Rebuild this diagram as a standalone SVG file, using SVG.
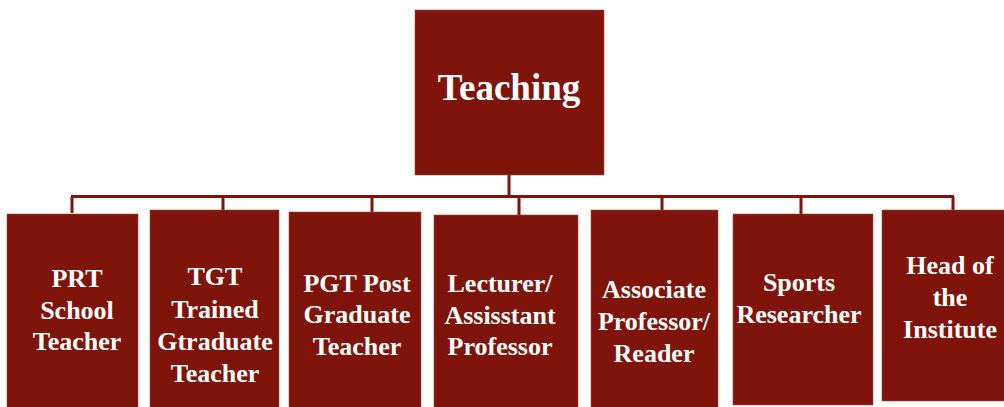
<svg xmlns="http://www.w3.org/2000/svg" width="1004" height="407" viewBox="0 0 1004 407">
<style>
.box{fill:#7f140b;stroke:#9a4a44;stroke-width:0.6}
.t{font-family:"Liberation Serif","Times New Roman",serif;font-weight:bold;fill:#ffffff;text-anchor:middle;font-size:26px}
.big{font-size:37px}
.c{stroke:#7f140b;stroke-width:3;fill:none}
</style>
<rect width="1004" height="407" fill="#ffffff"/>
<g id="connectors">
<path class="c" d="M509 175V196.5M71 196.5H954M72 196.5V213M223 196.5V210M372 196.5V212M519 196.5V215M662 196.5V210M801 196.5V214M953 196.5V210"/>
</g>
<g id="teaching">
<rect class="box" x="415" y="10" width="189" height="165"/>
<text class="t big" x="509" y="100">Teaching</text>
</g>
<g id="prt">
<rect class="box" x="7" y="214" width="131" height="200"/>
<text class="t" x="77" y="287">PRT</text>
<text class="t" x="77" y="319">School</text>
<text class="t" x="77" y="350">Teacher</text>
</g>
<g id="tgt">
<rect class="box" x="150" y="210" width="129" height="200"/>
<text class="t" x="215" y="285">TGT</text>
<text class="t" x="215" y="318">Trained</text>
<text class="t" x="215" y="350">Gtraduate</text>
<text class="t" x="215" y="382">Teacher</text>
</g>
<g id="pgt">
<rect class="box" x="289" y="212" width="132" height="200"/>
<text class="t" x="357" y="292">PGT Post</text>
<text class="t" x="357" y="323">Graduate</text>
<text class="t" x="357" y="355">Teacher</text>
</g>
<g id="lecturer">
<rect class="box" x="434" y="215" width="144" height="200"/>
<text class="t" x="500" y="292">Lecturer/</text>
<text class="t" x="500" y="324">Assisstant</text>
<text class="t" x="500" y="355">Professor</text>
</g>
<g id="associate">
<rect class="box" x="591" y="210" width="127" height="200"/>
<text class="t" x="654" y="298">Associate</text>
<text class="t" x="654" y="330">Professor/</text>
<text class="t" x="654" y="362">Reader</text>
</g>
<g id="sports">
<rect class="box" x="733" y="214" width="140" height="191"/>
<text class="t" x="799" y="291">Sports</text>
<text class="t" x="799" y="323">Researcher</text>
</g>
<g id="head">
<rect class="box" x="882" y="210" width="130" height="191"/>
<text class="t" x="950" y="274">Head of</text>
<text class="t" x="950" y="306">the</text>
<text class="t" x="950" y="338">Institute</text>
</g>
</svg>
